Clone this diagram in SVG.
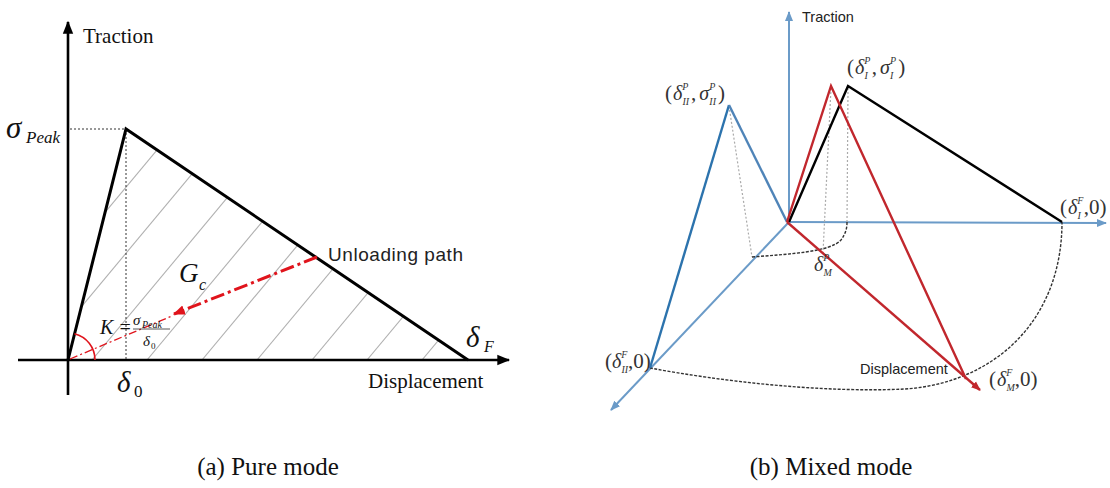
<svg xmlns="http://www.w3.org/2000/svg" width="1110" height="488" viewBox="0 0 1110 488">
<defs>
<style>
.ax{stroke:#000;stroke-width:2.6;fill:none}
.tri{stroke:#000;stroke-width:3;fill:none;stroke-linejoin:miter}
.hatch{stroke:#b0b0b0;stroke-width:1.1}
.dot{stroke:#333;stroke-width:1;stroke-dasharray:2 2;fill:none}
.serif{font-family:"Liberation Serif","Times New Roman",serif;fill:#111}
.it{font-style:italic}
.sans{font-family:"Liberation Sans",Arial,sans-serif;fill:#222}
.bax{stroke:#6b9bc8;stroke-width:2;fill:none}
.red{stroke:#c1272d;stroke-width:2.4;fill:none}
.blk{stroke:#000;stroke-width:2.4;fill:none}
.gdot{stroke:#aaa;stroke-width:1.2;stroke-dasharray:2 2;fill:none}
.kdash{stroke:#333;stroke-width:1.4;stroke-dasharray:3 1.5;fill:none}
.tup{font-family:"Liberation Serif","Times New Roman",serif;font-size:21px;fill:#333}
.g{font-style:italic;font-size:20px}
.ss{font-size:10px;font-style:italic}
</style>
<marker id="ah" viewBox="0 0 10 10" refX="9" refY="5" markerWidth="5" markerHeight="5" orient="auto" markerUnits="strokeWidth"><path d="M0,1 L10,5 L0,9 z" fill="#000"/></marker>
<marker id="ahb" viewBox="0 0 10 10" refX="9" refY="5" markerWidth="5" markerHeight="5" orient="auto" markerUnits="strokeWidth"><path d="M0,1 L10,5 L0,9 z" fill="#6b9bc8"/></marker>
<marker id="ahr" viewBox="0 0 10 10" refX="9" refY="5" markerWidth="4" markerHeight="4" orient="auto" markerUnits="strokeWidth"><path d="M0,1 L10,5 L0,9 z" fill="#c1272d"/></marker>
<marker id="ahu" viewBox="0 0 10 10" refX="9" refY="5" markerWidth="4" markerHeight="4" orient="auto" markerUnits="strokeWidth"><path d="M0,1 L10,5 L0,9 z" fill="#e0141c"/></marker>
<clipPath id="triclip"><polygon points="68,360 126,129 468,360"/></clipPath>
</defs>
<rect width="1110" height="488" fill="#fff"/>

<!-- (a) Pure mode -->
<g id="hatching" clip-path="url(#triclip)">
<line class="hatch" x1="-73" y1="360" x2="127" y2="120"/>
<line class="hatch" x1="-18" y1="360" x2="182" y2="120"/>
<line class="hatch" x1="37" y1="360" x2="237" y2="120"/>
<line class="hatch" x1="92" y1="360" x2="292" y2="120"/>
<line class="hatch" x1="147" y1="360" x2="347" y2="120"/>
<line class="hatch" x1="202" y1="360" x2="402" y2="120"/>
<line class="hatch" x1="257" y1="360" x2="457" y2="120"/>
<line class="hatch" x1="312" y1="360" x2="512" y2="120"/>
<line class="hatch" x1="367" y1="360" x2="567" y2="120"/>
<line class="hatch" x1="422" y1="360" x2="622" y2="120"/>
</g>
<g id="axes-a">
<line class="ax" x1="68" y1="395" x2="68" y2="22" marker-end="url(#ah)"/>
<line class="ax" x1="18" y1="360" x2="509" y2="360" marker-end="url(#ah)"/>
</g>
<g id="guides-a">
<line class="dot" x1="70" y1="129" x2="126" y2="129"/>
<line class="dot" x1="126" y1="129" x2="126" y2="360"/>
</g>
<g id="traction-sep">
<polyline class="tri" points="68,360 126,129 468,360"/>
</g>
<g id="unloading">
<line x1="317" y1="257" x2="174" y2="314" stroke="#e0141c" stroke-width="3" stroke-dasharray="14 4 3 4" marker-end="url(#ahu)"/>
<line x1="70" y1="359" x2="172" y2="316" stroke="#e0141c" stroke-width="1.3" stroke-dasharray="8 3 2 3"/>
<path d="M95,360 A27,27 0 0 0 74.5,333.8" stroke="#e0141c" stroke-width="1.6" fill="none"/>
</g>
<g id="labels-a">
<text class="serif" x="83" y="43" font-size="21">Traction</text>
<text class="serif" x="368" y="388" font-size="21">Displacement</text>
<text class="serif it" x="6" y="138" font-size="31">σ</text>
<text class="serif it" x="26" y="143" font-size="17">Peak</text>
<text class="serif it" x="117" y="392" font-size="29">δ</text>
<text class="serif" x="134" y="397" font-size="17">0</text>
<text class="serif it" x="466" y="347" font-size="29">δ</text>
<text class="serif it" x="484" y="352" font-size="16">F</text>
<text class="sans" x="328" y="261" font-size="19" textLength="135" lengthAdjust="spacing">Unloading path</text>
<text class="serif it" x="179" y="282" font-size="27">G</text>
<text class="serif it" x="199" y="290" font-size="16">c</text>
<text class="serif it" x="100" y="334" font-size="20">K =</text>
<text class="serif it" x="133" y="325" font-size="15" fill="#444">σ</text>
<text class="serif it" x="142" y="328" font-size="10" fill="#444">Peak</text>
<line x1="133" y1="329" x2="170" y2="329" stroke="#444" stroke-width="0.9"/>
<text class="serif it" x="143" y="346" font-size="15" fill="#444">δ</text>
<text class="serif" x="151" y="349" font-size="9" fill="#444">0</text>
</g>

<!-- (b) Mixed mode -->
<g id="axes-b">
<line class="bax" x1="789" y1="222" x2="789" y2="12" marker-end="url(#ahb)"/>
<line class="bax" x1="789" y1="222" x2="1106" y2="223" marker-end="url(#ahb)"/>
<line class="bax" x1="789" y1="222" x2="611" y2="410" marker-end="url(#ahb)"/>
</g>
<g id="projections">
<line class="gdot" x1="729" y1="106" x2="752" y2="257"/>
<line class="gdot" x1="831" y1="88" x2="823" y2="253"/>
<line class="gdot" x1="848" y1="88" x2="847" y2="222"/>
<path class="kdash" d="M752,257 C790,254 830,252 841,240 C846,233 847,228 847,222"/>
<path class="kdash" d="M650,368 C720,381 820,393 905,389 C995,383 1062,320 1062,222"/>
</g>
<g id="mode-II">
<line x1="729" y1="105" x2="650" y2="368" stroke="#2c73ad" stroke-width="2.4"/>
<line x1="729" y1="105" x2="787" y2="222" stroke="#4f84b8" stroke-width="2.4"/>
</g>
<g id="mode-I">
<polyline class="blk" points="789,222 848,86 1062,222"/>
</g>
<g id="mixed">
<polyline class="red" points="787,222 831,86 966,379"/>
<line class="red" x1="787" y1="222" x2="980" y2="390" marker-end="url(#ahr)"/>
</g>
<g id="labels-b">
<text class="sans" x="802" y="22" font-size="14.5">Traction</text>
<text class="sans" x="860" y="374" font-size="14.5" fill="#333">Displacement</text>
<text class="tup" x="665" y="100">(<tspan class="g" dx="1">δ</tspan><tspan class="ss" dy="-10">P</tspan><tspan class="ss" dx="-6" dy="15">II</tspan><tspan dx="2" dy="-5">,</tspan><tspan class="g" dx="3">σ</tspan><tspan class="ss" dy="-10">P</tspan><tspan class="ss" dx="-6" dy="15">II</tspan><tspan dx="2" dy="-5">)</tspan></text>
<text class="tup" x="847" y="74">(<tspan class="g" dx="1">δ</tspan><tspan class="ss" dy="-10">P</tspan><tspan class="ss" dx="-6" dy="15">I</tspan><tspan dx="4" dy="-5">,</tspan><tspan class="g" dx="3">σ</tspan><tspan class="ss" dy="-10">P</tspan><tspan class="ss" dx="-6" dy="15">I</tspan><tspan dx="5" dy="-5">)</tspan></text>
<text class="tup" x="1060" y="214">(<tspan class="g" dx="1">δ</tspan><tspan class="ss" dy="-10">F</tspan><tspan class="ss" dx="-6" dy="15">I</tspan><tspan dx="3" dy="-5">,0)</tspan></text>
<text class="tup" x="605" y="368">(<tspan class="g">δ</tspan><tspan class="ss" dy="-10">F</tspan><tspan class="ss" dx="-6" dy="15">II</tspan><tspan dy="-5">,0)</tspan></text>
<text class="tup" x="989" y="386">(<tspan class="g" dx="1">δ</tspan><tspan class="ss" dy="-10">F</tspan><tspan class="ss" dx="-6" dy="15">M</tspan><tspan dy="-5">,0)</tspan></text>
<text class="tup" x="814" y="271"><tspan class="g">δ</tspan><tspan class="ss" dy="-10">P</tspan><tspan class="ss" dx="-6" dy="15">M</tspan></text>
</g>

<g id="captions">
<text class="serif" x="268" y="475" font-size="25" text-anchor="middle">(a) Pure mode</text>
<text class="serif" x="831" y="475" font-size="25" text-anchor="middle">(b) Mixed mode</text>
</g>
</svg>
